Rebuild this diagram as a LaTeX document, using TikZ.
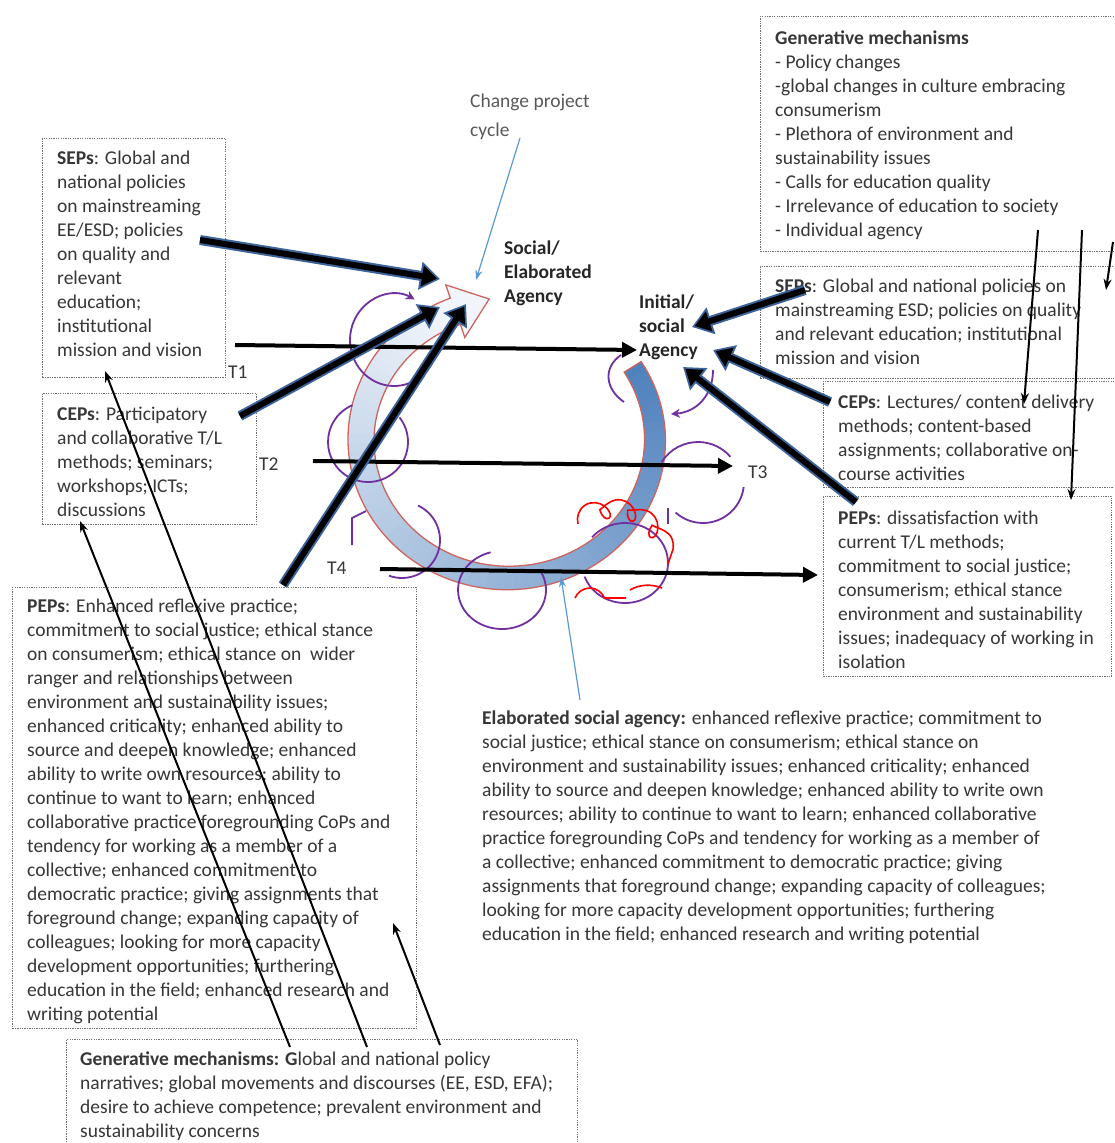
\documentclass[tikz,border=0pt]{standalone}
\usepackage{fontspec}
\setmainfont{Carlito}
\usetikzlibrary{arrows.meta,decorations.pathmorphing}
\definecolor{txt}{RGB}{55,55,55}
\definecolor{ringblue}{RGB}{79,129,189}
\definecolor{ringred}{RGB}{205,100,95}
\definecolor{tblue}{RGB}{60,100,155}
\definecolor{lblue}{RGB}{91,155,213}
\definecolor{purp}{RGB}{112,48,160}
\definecolor{boxgray}{RGB}{110,110,110}
\begin{document}
\begin{tikzpicture}[x=1pt,y=-1pt,
  box/.style={draw=boxgray, dash pattern=on 1.3pt off 1.1pt, line width=0.9pt, anchor=north west, inner sep=0pt},
  txtnode/.style={anchor=north west, inner sep=0pt, align=left, text=txt, font=\fontsize{19.5}{24}\selectfont},
  tlabel/.style={anchor=west, inner sep=0pt, text=txt, font=\fontsize{19.5}{24}\selectfont},
  thickarr/.style={line width=6pt, black, shorten >=3pt, -{Triangle[length=15pt,width=20pt]},
     preaction={draw=tblue, line width=10pt, shorten >=0pt, -{Triangle[length=20pt,width=27pt]}}},
  tarr/.style={line width=4pt, black, -{Triangle[length=15pt,width=15pt]}},
  thinarr/.style={line width=2pt, black, -{Stealth[length=11pt,width=8pt]}},
  bluearr/.style={line width=1.2pt, lblue, -{Stealth[length=10pt,width=7pt]}},
  purpl/.style={draw=purp, line width=1.8pt},
  redsq/.style={draw=red, line width=1.6pt}]
\useasboundingbox (0,0) rectangle (1114,1143);
\clip (0,0) rectangle (1114,1143);
\fill[white] (0,0) rectangle (1114,1143);

% ---------- boxes ----------
\node[box, minimum width=183pt, minimum height=239pt] (bSEPl) at (42,138) {};
\node[box, minimum width=214pt, minimum height=131pt] (bCEPl) at (42,393) {};
\node[box, minimum width=404pt, minimum height=441pt] (bPEPl) at (12,587) {};
\node[box, minimum width=511pt, minimum height=120pt] (bGMb) at (66,1039) {};
\node[box, minimum width=370pt, minimum height=235pt] (bGMt) at (760,16) {};
\node[box, minimum width=370pt, minimum height=112pt] (bSEPr) at (760,266) {};
\node[box, minimum width=300pt, minimum height=106pt] (bCEPr) at (823,381) {};
\node[box, minimum width=288pt, minimum height=180pt] (bPEPr) at (823,496) {};

% ---------- texts ----------
\node[txtnode] (tSEPl) at (57,151) {\textbf{SEPs}: Global and\\national policies\\on mainstreaming\\EE/ESD; policies\\on quality and\\relevant\\education;\\institutional\\mission and vision};
\node[txtnode] (tCEPl) at (57,407) {\textbf{CEPs}: Participatory\\and collaborative T/L\\methods; seminars;\\workshops; ICTs;\\discussions};
\node[txtnode] (tPEPl) at (27,599) {\textbf{PEPs}: Enhanced reflexive practice;\\commitment to social justice; ethical stance\\on consumerism; ethical stance on\ \ wider\\ranger and relationships between\\environment and sustainability issues;\\enhanced criticality; enhanced ability to\\source and deepen knowledge; enhanced\\ability to write own resources; ability to\\continue to want to learn; enhanced\\collaborative practice foregrounding CoPs and\\tendency for working as a member of a\\collective; enhanced commitment to\\democratic practice; giving assignments that\\foreground change; expanding capacity of\\colleagues; looking for more capacity\\development opportunities; furthering\\education in the field; enhanced research and\\writing potential};
\node[txtnode] (tGMb) at (80,1052) {\textbf{Generative mechanisms: G}lobal and national policy\\narratives; global movements and discourses (EE, ESD, EFA);\\desire to achieve competence; prevalent environment and\\sustainability concerns};
\node[txtnode] (tGMt) at (775,31) {\textbf{Generative mechanisms}\\- Policy changes\\-global changes in culture embracing\\consumerism\\- Plethora of environment and\\sustainability issues\\- Calls for education quality\\- Irrelevance of education to society\\- Individual agency};
\node[txtnode] (tSEPr) at (775,279) {\textbf{SEPs}: Global and national policies on\\mainstreaming ESD; policies on quality\\and relevant education; institutional\\mission and vision};
\node[txtnode] (tCEPr) at (838,395) {\textbf{CEPs}: Lectures/ content delivery\\methods; content-based\\assignments; collaborative on-\\course activities};
\node[txtnode] (tPEPr) at (838,511) {\textbf{PEPs}: dissatisfaction with\\current T/L methods;\\commitment to social justice;\\consumerism; ethical stance\\environment and sustainability\\issues; inadequacy of working in\\isolation};
\node[txtnode] (tESA) at (482,711) {\textbf{Elaborated social agency:} enhanced reflexive practice; commitment to\\social justice; ethical stance on consumerism; ethical stance on\\environment and sustainability issues; enhanced criticality; enhanced\\ability to source and deepen knowledge; enhanced ability to write own\\resources; ability to continue to want to learn; enhanced collaborative\\practice foregrounding CoPs and tendency for working as a member of\\a collective; enhanced commitment to democratic practice; giving\\assignments that foreground change; expanding capacity of colleagues;\\looking for more capacity development opportunities; furthering\\education in the field; enhanced research and writing potential};
\node[txtnode, text=black!65, font=\fontsize{19.5}{29}\selectfont] (tCPC) at (470,94) {Change project\\cycle};
\node[txtnode, text=black!85] (tSoc) at (504,241) {\textbf{Social/}\\\textbf{Elaborated}\\\textbf{Agency}};
\node[txtnode, text=black!85] (tIni) at (639,295) {\textbf{Initial/}\\\textbf{social}\\\textbf{Agency}};
\node[tlabel] (T1) at (228,372) {T1};
\node[tlabel] (T2) at (259,464) {T2};
\node[tlabel] (T3) at (748,472) {T3};
\node[tlabel] (T4) at (327,568) {T4};

% ---------- cycle ring ----------
\foreach \i in {0,...,79}{
  \pgfmathsetmacro\ta{-32+\i*3.5125}
  \pgfmathsetmacro\tb{\ta+3.5125+0.8}
  \pgfmathsetmacro\ha{10+(\ta+32)/70.25}
  \pgfmathsetmacro\hb{10+(\tb+32)/70.25}
  \pgfmathtruncatemacro\p{100-\i*1.1646}
  \fill[ringblue!\p!white] ({508+(147+\ha)*cos(\ta)},{440+(138+\ha)*sin(\ta)}) -- ({508+(147+\hb)*cos(\tb)},{440+(138+\hb)*sin(\tb)}) -- ({508+(147-\hb)*cos(\tb)},{440+(138-\hb)*sin(\tb)}) -- ({508+(147-\ha)*cos(\ta)},{440+(138-\ha)*sin(\ta)}) -- cycle;
}
\fill[ringblue!8!white] (450.3,298.1) -- (445.8,284.9) -- (489.2,299.0) -- (464.8,337.5) -- (460.3,324.2) -- cycle;
\draw[ringred, line width=1.3pt, line join=miter]
  plot[domain=-32:249, samples=120] ({508+(157+(\x+32)/70.25)*cos(\x)},{440+(148+(\x+32)/70.25)*sin(\x)})
  -- (445.8,284.9) -- (489.2,299.0) -- (464.8,337.5)
  -- plot[domain=0:281, samples=120] ({508+(137-(281-\x)/70.25)*cos(249-\x)},{440+(128-(281-\x)/70.25)*sin(249-\x)})
  -- cycle;

% ---------- purple scribbles ----------
\draw[purpl, -{Stealth[length=9pt,width=9pt]}] ({394+44*cos(30)},{340+46*sin(30)}) arc[start angle=30, end angle=298, x radius=44, y radius=46];
\draw[purpl] ({368+40*cos(-38)},{442+40*sin(-38)}) arc[start angle=-38, end angle=247, radius=40];
\draw[purpl] (352,545) -- (352,518) -- (366,511);
\draw[purpl] ({402+38*cos(-65)},{540+38*sin(-65)}) arc[start angle=-65, end angle=110, radius=38];
\draw[purpl] ({502+44*cos(-28)},{590+39*sin(-28)}) arc[start angle=-28, end angle=255, x radius=44, y radius=39];
\draw[purpl] ({625+43*cos(220)},{563+40*sin(220)}) arc[start angle=220, end angle=520, x radius=43, y radius=40];
\draw[purpl] ({698+43*cos(212)},{485+43*sin(212)}) arc[start angle=212, end angle=319, radius=43];
\draw[purpl] ({703+41*cos(7)},{482+41*sin(7)}) arc[start angle=7, end angle=132, radius=41];
\draw[purpl] (668,508) -- (668,524);
\draw[purpl, -{Stealth[length=9pt,width=9pt]}] (713,370) .. controls (713,395) and (697,412) .. (671,414);
\draw[purpl] (621,355) .. controls (602,368) and (606,390) .. (624,402);

% ---------- red scribbles ----------
\draw[redsq, decorate, decoration={coil, amplitude=12pt, segment length=26pt, aspect=0.8}] (578,524) .. controls (612,502) and (652,515) .. (668,564);
\draw[redsq, decorate, decoration={coil, amplitude=10pt, segment length=27pt, aspect=0.8}] (575,598) -- (626,598);
\draw[redsq] (630,590) .. controls (640,584) and (652,584) .. (662,588);

% ---------- coordinates ----------
\coordinate (a1s) at (200,240); \coordinate (a1e) at (440,279);
\coordinate (a2s) at (240,416); \coordinate (a2e) at (440,307);
\coordinate (a3s) at (283,585); \coordinate (a3e) at (466,304);
\coordinate (b1s) at (805,290); \coordinate (b1e) at (692,327);
\coordinate (b2s) at (830,402); \coordinate (b2e) at (713,350);
\coordinate (b3s) at (856,502); \coordinate (b3e) at (683,367);
\coordinate (t1s) at (235,345); \coordinate (t1e) at (637,350);
\coordinate (t2s) at (313,461); \coordinate (t2e) at (733,466);
\coordinate (t4s) at (380,569); \coordinate (t4e) at (818,575);
\coordinate (c1s) at (1038,230); \coordinate (c1e) at (1024,404);
\coordinate (c2s) at (1082,230); \coordinate (c2e) at (1071,500);
\coordinate (c3s) at (1113,242); \coordinate (c3e) at (1106,290);
\coordinate (d1s) at (290,1047); \coordinate (d1e) at (80,521);
\coordinate (d2s) at (367,1047); \coordinate (d2e) at (105,371);
\coordinate (d3s) at (440,1045); \coordinate (d3e) at (393,923);
\coordinate (e1s) at (520,138); \coordinate (e1e) at (476,280);
\coordinate (e2s) at (580,700); \coordinate (e2e) at (561,577);

% ---------- arrows ----------
\draw[tarr] (t1s) -- (t1e);
\draw[tarr] (t2s) -- (t2e);
\draw[tarr] (t4s) -- (t4e);
\draw[thickarr] (a1s) -- (a1e);
\draw[thickarr] (a2s) -- (a2e);
\draw[thickarr] (a3s) -- (a3e);
\draw[thickarr] (b1s) -- (b1e);
\draw[thickarr] (b2s) -- (b2e);
\draw[thickarr] (b3s) -- (b3e);
\draw[thinarr] (c1s) -- (c1e);
\draw[thinarr] (c2s) -- (c2e);
\draw[thinarr] (c3s) -- (c3e);
\draw[thinarr] (d1s) -- (d1e);
\draw[thinarr] (d2s) -- (d2e);
\draw[thinarr] (d3s) -- (d3e);
\draw[bluearr] (e1s) -- (e1e);
\draw[bluearr] (e2s) -- (e2e);
\end{tikzpicture}
\end{document}
